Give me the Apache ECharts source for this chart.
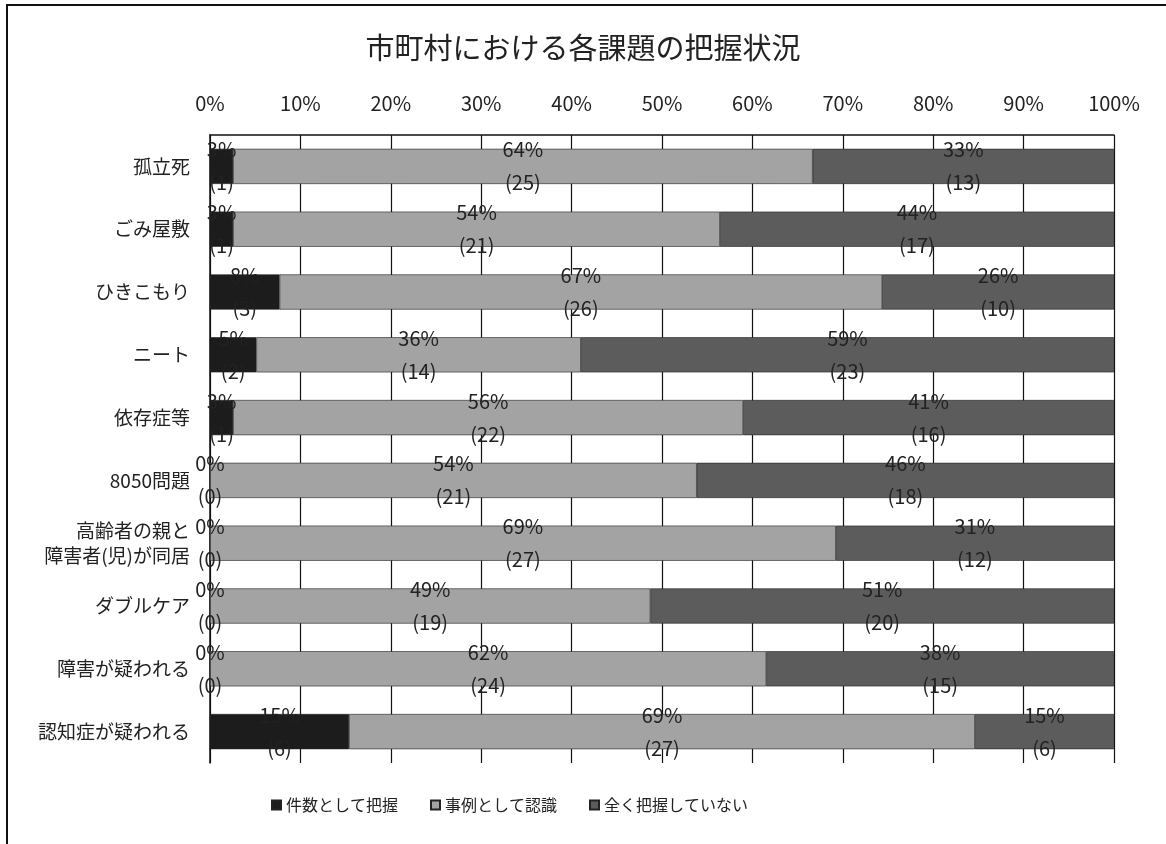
<!DOCTYPE html>
<html>
<head>
<meta charset="utf-8">
<script src="https://cdn.jsdelivr.net/npm/echarts@6/dist/echarts.min.js"></script>
<style>
html,body{margin:0;padding:0;background:#fff;}
#chart{width:1166px;height:844px;}
</style>
</head>
<body>
<div id="chart"></div>
<script>
var title = '市町村における各課題の把握状況';
var categories = ['孤立死','ごみ屋敷','ひきこもり','ニート','依存症等','8050問題','高齢者の親と\n障害者(児)が同居','ダブルケア','障害が疑われる','認知症が疑われる'];
var seriesNames = ['件数として把握','事例として認識','全く把握していない'];
var countKnown = [1,1,3,2,1,0,0,0,0,6];
var countAware = [25,21,26,14,22,21,27,19,24,27];
var countNone = [13,17,10,23,16,18,12,20,15,6];
var xTicks = [0,10,20,30,40,50,60,70,80,90,100];

var counts = [countKnown, countAware, countNone];
var totals = categories.map(function(c,i){return countKnown[i]+countAware[i]+countNone[i];});
var colors = ['#1c1c1c','#a3a3a3','#5c5c5c'];
var font = 'Noto Sans CJK JP';

var series = counts.map(function(arr, si){
  return {
    name: seriesNames[si],
    type: 'bar',
    stack: 'total',
    barWidth: '56%',
    data: arr.map(function(v,i){ return v / totals[i] * 100; }),
    itemStyle: {color: colors[si], borderColor: '#222', borderWidth: 0.6},
    label: {
      show: true,
      position: 'inside',
      offset: [0, 0],
      fontFamily: font,
      fontSize: 20,
      lineHeight: 33,
      color: '#222',
      formatter: function(p){
        return Math.round(p.value) + '%\n(' + counts[si][p.dataIndex] + ')';
      }
    },
    emphasis: {disabled: true}
  };
});

var chart = echarts.init(document.getElementById('chart'));
chart.setOption({
  animation: false,
  backgroundColor: '#fff',
  title: {
    text: title,
    left: 'center',
    top: 28,
    textStyle: {fontFamily: font, fontSize: 29, fontWeight: 'normal', color: '#222'}
  },
  legend: {
    bottom: 26,
    left: 266,
    itemWidth: 9,
    itemHeight: 9,
    itemGap: 32,
    icon: 'rect',
    textStyle: {fontFamily: font, fontSize: 16, color: '#222'},
    data: seriesNames
  },
  grid: {left: 210, right: 52, top: 135, bottom: 81, containLabel: false},
  xAxis: {
    type: 'value',
    position: 'top',
    min: 0,
    max: 100,
    interval: 10,
    axisLine: {show: true, lineStyle: {color: '#111', width: 1.5}},
    axisTick: {show: false},
    splitLine: {show: true, lineStyle: {color: '#111', width: 1.2}},
    axisLabel: {
      fontFamily: font, fontSize: 20, color: '#222', margin: 22,
      formatter: function(v){ return v + '%'; }
    }
  },
  yAxis: {
    type: 'category',
    data: categories,
    inverse: true,
    axisLine: {show: true, lineStyle: {color: '#111', width: 1.5}},
    axisTick: {show: false},
    axisLabel: {fontFamily: font, fontSize: 19, color: '#222', margin: 20, lineHeight: 25, align: 'right'}
  },
  graphic: [{
    type: 'rect',
    shape: {x: 7, y: 5, width: 1300, height: 1000},
    style: {fill: 'none', stroke: '#111', lineWidth: 2},
    silent: true
  }],
  series: series
});
</script>
</body>
</html>
